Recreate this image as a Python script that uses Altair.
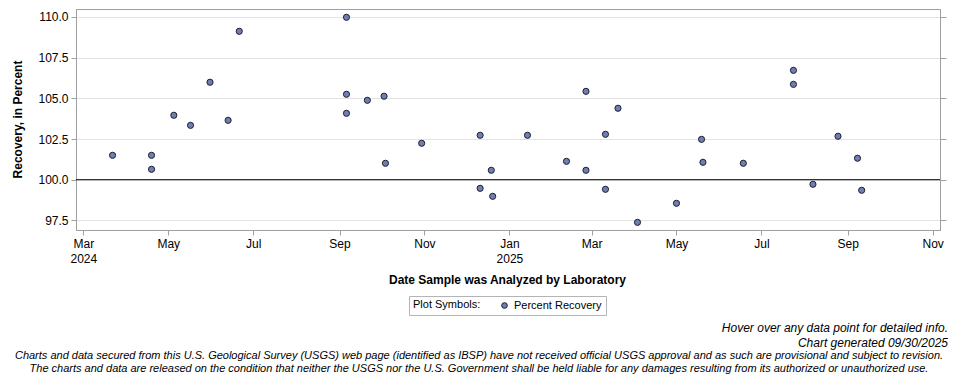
import altair as alt
import pandas as pd

# ---------------- data ----------------
analysis_dates = [
    "2024-03-22", "2024-04-19", "2024-04-19", "2024-05-05", "2024-05-17",
    "2024-05-31", "2024-06-13", "2024-06-21", "2024-09-06", "2024-09-06",
    "2024-09-06", "2024-09-21", "2024-10-03", "2024-10-04", "2024-10-30",
    "2024-12-11", "2024-12-11", "2024-12-19", "2024-12-20", "2025-01-14",
    "2025-02-11", "2025-02-25", "2025-02-25", "2025-03-11", "2025-03-11",
    "2025-03-20", "2025-04-03", "2025-05-01", "2025-05-19", "2025-05-20",
    "2025-06-18", "2025-07-24", "2025-07-24", "2025-08-07", "2025-08-25",
    "2025-09-08", "2025-09-11",
]
percent_recovery = [
    101.50, 101.50, 100.64, 103.96, 103.34,
    105.99, 103.65, 109.12, 109.98, 105.25,
    104.08, 104.88, 105.13, 101.01, 102.24,
    102.73, 99.47, 100.58, 98.98, 102.73,
    101.13, 105.43, 100.58, 102.79, 99.41,
    104.39, 97.38, 98.55, 102.48, 101.07,
    101.01, 106.72, 105.86, 99.72, 102.67,
    101.32, 99.35,
]
series_name = "Percent Recovery"
reference_value = [100.0]

x_tick_dates = [
    "2024-03-01", "2024-05-01", "2024-07-01", "2024-09-01", "2024-11-01",
    "2025-01-01", "2025-03-01", "2025-05-01", "2025-07-01", "2025-09-01",
    "2025-11-01",
]
x_domain_dates = ["2024-02-24T18:00:00Z", "2025-11-06T06:00:00Z"]
y_tick_values = [97.5, 100.0, 102.5, 105.0, 107.5, 110.0]
y_domain = [96.91, 110.49]

x_title = "Date Sample was Analyzed by Laboratory"
y_title = "Recovery, in Percent"
legend_title = "Plot Symbols:"
footer_hover = "Hover over any data point for detailed info."
footer_generated = "Chart generated 09/30/2025"
footer_disclaimer_1 = ("Charts and data secured from this U.S. Geological Survey (USGS) web page "
                       "(identified as IBSP) have not received official USGS approval and as such "
                       "are provisional and subject to revision.")
footer_disclaimer_2 = ("The charts and data are released on the condition that neither the USGS nor "
                       "the U.S. Government shall be held liable for any damages resulting from its "
                       "authorized or unauthorized use.")

# ---------------- helpers ----------------
def to_ms(s):
    ts = pd.Timestamp(s)
    if ts.tzinfo is None:
        ts = ts.tz_localize("UTC")
    return int(ts.value // 10**6)

x_tick_ms = [to_ms(d) for d in x_tick_dates]
x_domain_ms = [to_ms(d) for d in x_domain_dates]

df = pd.DataFrame({"date": analysis_dates, "recovery": percent_recovery,
                   "series": [series_name] * len(analysis_dates)})
ref_df = pd.DataFrame({"ref": reference_value})

FONT = "Liberation Sans"
FILL = "#6F7EB3"
OUTLINE = "#1E1E2E"
AXIS_GRAY = "#A0A0A0"

x_scale = alt.Scale(type="utc", domain=x_domain_ms, nice=False)
y_scale = alt.Scale(domain=y_domain, nice=False, zero=False)

label_expr = ("(utcmonth(datum.value)==0 || (utcyear(datum.value)==2024 && utcmonth(datum.value)==2))"
              " ? [utcFormat(datum.value, '%b'), utcFormat(datum.value, '%Y')]"
              " : utcFormat(datum.value, '%b')")

points = alt.Chart(df).mark_point(
    filled=True, shape="circle", size=38, stroke=OUTLINE, strokeWidth=1, opacity=1
).encode(
    x=alt.X("date:T", scale=x_scale, axis=alt.Axis(
        values=x_tick_ms, labelExpr=label_expr, tickSize=5, labelPadding=3,
        grid=False, title=x_title, titleX=431, titleY=49, titleAlign="center",
        titleBaseline="middle", labelLineHeight=15, labelBaseline="top",
        labelFlush=False, labelOverlap=False)),
    y=alt.Y("recovery:Q", scale=y_scale, axis=alt.Axis(
        values=y_tick_values, format=".1f", tickSize=5, labelPadding=3, grid=True,
        title=y_title, titleX=-59, titleY=110, titleAngle=270, titleAlign="center",
        titleBaseline="middle")),
    color=alt.Color("series:N", scale=alt.Scale(domain=[series_name], range=[FILL]),
                    legend=alt.Legend(
                        title=legend_title, orient="none", legendX=333, legendY=287,
                        direction="horizontal", titleOrient="left", padding=4,
                        strokeColor="#B4B4B4", fillColor="white", titleFontWeight="normal",
                        titleFontSize=11, labelFontSize=11, titleFont=FONT, labelFont=FONT,
                        titleColor="black", labelColor="black", symbolSize=32,
                        symbolType="circle", symbolStrokeColor=OUTLINE, symbolStrokeWidth=1,
                        symbolFillColor=FILL, titlePadding=18, labelOffset=4,
                        titleBaseline="middle")),
    tooltip=[alt.Tooltip("date:T", title="Date"), alt.Tooltip("recovery:Q", title="Recovery")],
)

rule = alt.Chart(ref_df).mark_rule(color="black", strokeWidth=1).encode(
    y=alt.Y("ref:Q", scale=y_scale, axis=alt.Axis(
        orient="right", values=y_tick_values, labels=False, ticks=True, tickSize=6,
        grid=False, title=None, domain=True))
)

def footer(text, x, y, align, size):
    return alt.Chart(pd.DataFrame({"t": [text]})).mark_text(
        font=FONT, fontSize=size, fontStyle="italic", align=align, baseline="middle",
        color="black"
    ).encode(x=alt.value(x), y=alt.value(y), text="t:N")

chart = alt.layer(
    rule, points,
    footer(footer_hover, 872, 319, "right", 12),
    footer(footer_generated, 872, 333.5, "right", 12),
    footer(footer_disclaimer_1, 403, 346.5, "center", 11),
    footer(footer_disclaimer_2, 403, 359.5, "center", 11),
).resolve_axis(y="independent").properties(
    width=864, height=221,
    autosize=alt.AutoSizeParams(type="none"),
    padding={"left": 68, "top": 1, "right": 12, "bottom": 145},
    background="white",
).configure_view(
    stroke=AXIS_GRAY, strokeWidth=1
).configure_axis(
    domainColor=AXIS_GRAY, tickColor=AXIS_GRAY, gridColor="#E3E3E3",
    labelFont=FONT, titleFont=FONT, labelColor="black", titleColor="black",
    labelFontSize=12, titleFontSize=12, titleFontWeight="bold",
)

chart.save("out.html", embed_options={"renderer": "svg", "actions": False})
